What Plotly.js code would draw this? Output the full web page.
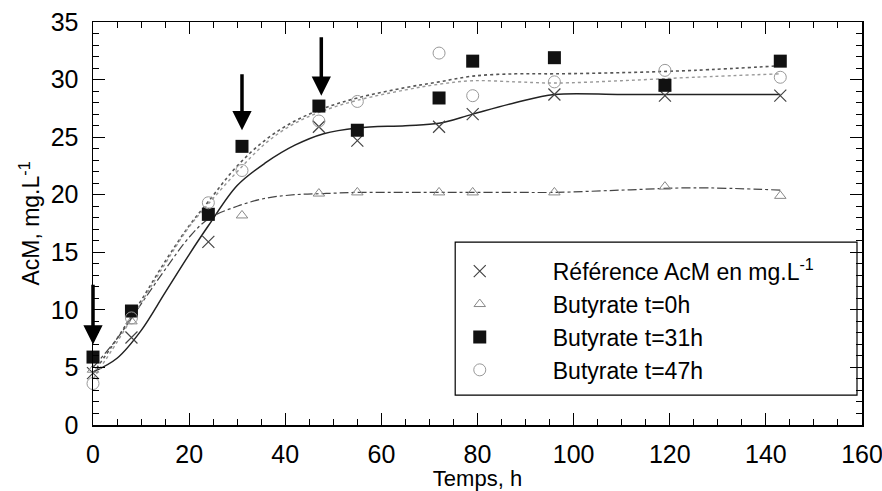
<!DOCTYPE html>
<html>
<head>
<meta charset="utf-8">
<script src="https://cdn.plot.ly/plotly-3.0.1.min.js"></script>
<style>html,body{margin:0;padding:0;background:#fff;}#chart{width:882px;height:491px;}</style>
</head>
<body>
<div id="chart"></div>
<script>
// Measured points (time in h, AcM in mg/L)
const times = [0, 8, 24, 31, 47, 55, 72, 79, 96, 119, 143];
const refAcM = [4.5, 7.6, 15.9, null, 25.9, 24.7, 25.9, 27.0, 28.7, 28.6, 28.6];
const butT0 = [4.8, 9.0, 18.0, 18.2, 20.1, 20.2, 20.2, 20.2, 20.2, 20.7, 19.9];
const butT31 = [5.9, 9.9, 18.3, 24.2, 27.7, 25.6, 28.4, 31.6, 31.9, 29.5, 31.6];
const butT47 = [3.6, 9.3, 19.3, 22.1, 26.4, 28.1, 32.3, 28.6, 29.8, 30.8, 30.2];

// Fitted curves
const fitTimes = [0, 5, 10, 15, 20, 24, 30, 36, 42, 48, 55, 65, 72, 79, 88, 96, 110, 125, 143];
const fitRef = [4.6, 5.8, 8.2, 11.5, 14.8, 17.3, 20.8, 22.8, 24.3, 25.3, 25.8, 26.0, 26.2, 27.0, 28.0, 28.7, 28.7, 28.7, 28.7];
const fitT0 = [5.0, 7.5, 10.5, 13.5, 16.3, 17.9, 19.0, 19.7, 20.0, 20.1, 20.2, 20.2, 20.2, 20.2, 20.2, 20.2, 20.4, 20.6, 20.4];
const fitT31 = [4.5, 7.5, 10.8, 14.2, 17.3, 19.4, 22.5, 24.8, 26.4, 27.5, 28.4, 29.3, 29.8, 30.3, 30.5, 30.5, 30.6, 30.8, 31.2];
const fitT47 = [4.0, 7.2, 10.6, 14.0, 17.2, 19.2, 22.0, 24.5, 26.2, 27.3, 28.2, 29.1, 29.6, 29.9, 29.8, 29.7, 29.9, 30.2, 30.5];

// Butyrate addition arrows
const arrowTimes = [0, 31, 47.5];
const arrowTop = [12.3, 30.6, 33.8];
const arrowTip = [7.0, 25.6, 28.6];

const seriesNames = ['Référence AcM en mg.L<sup>-1</sup>', 'Butyrate t=0h', 'Butyrate t=31h', 'Butyrate t=47h'];

const FONT = 'Arial, "Liberation Sans", sans-serif';

const traces = [
  {x: fitTimes, y: fitRef, mode: 'lines', line: {color: '#222', width: 1.5, shape: 'spline'}, showlegend: false, hoverinfo: 'skip'},
  {x: fitTimes, y: fitT0, mode: 'lines', line: {color: '#444', width: 1.2, dash: 'dashdot', shape: 'spline'}, showlegend: false, hoverinfo: 'skip'},
  {x: fitTimes, y: fitT31, mode: 'lines', line: {color: '#555', width: 1.6, dash: 'dot', shape: 'spline'}, showlegend: false, hoverinfo: 'skip'},
  {x: fitTimes, y: fitT47, mode: 'lines', line: {color: '#999', width: 1.4, dash: '3px,3px', shape: 'spline'}, showlegend: false, hoverinfo: 'skip'},
  {x: times, y: refAcM, name: seriesNames[0], mode: 'markers', cliponaxis: false,
   marker: {symbol: 'x-thin-open', size: 12, color: '#444', line: {color: '#444', width: 1.2}}},
  {x: times, y: butT0, name: seriesNames[1], mode: 'markers', cliponaxis: false,
   marker: {symbol: 'triangle-up-open', size: 10, color: '#888', line: {color: '#888', width: 1}}},
  {x: times, y: butT31, name: seriesNames[2], mode: 'markers', cliponaxis: false,
   marker: {symbol: 'square', size: 13, color: '#111', line: {color: '#111', width: 0}}},
  {x: times, y: butT47, name: seriesNames[3], mode: 'markers', cliponaxis: false,
   marker: {symbol: 'circle-open', size: 12, color: '#999', line: {color: '#999', width: 1}}}
];

const annotations = arrowTimes.map((t, i) => ({
  x: t, y: arrowTip[i], ax: t, ay: arrowTop[i], axref: 'x', ayref: 'y', xref: 'x', yref: 'y',
  text: '', showarrow: true, arrowhead: 2, arrowsize: 1.1, arrowwidth: 3.5, arrowcolor: '#000'
}));

const layout = {
  width: 882, height: 491,
  margin: {l: 93, r: 20, t: 22, b: 66},
  paper_bgcolor: '#fff', plot_bgcolor: '#fff',
  font: {family: FONT, color: '#000', size: 25},
  showlegend: true,
  legend: {
    x: 0.408, y: 0.435, xanchor: 'left', yanchor: 'top',
    bgcolor: 'rgba(0,0,0,0)', borderwidth: 0,
    font: {family: FONT, size: 23, color: '#000'},
    itemwidth: 136
  },
  shapes: [{type: 'rect', xref: 'paper', yref: 'paper', x0: 0.471, x1: 0.9935, y0: 0.074, y1: 0.454,
            line: {color: '#000', width: 1.2}, fillcolor: 'rgba(0,0,0,0)'}],
  xaxis: {
    range: [0, 160], dtick: 20, tick0: 0,
    ticks: 'inside', ticklen: 12, tickwidth: 1.2, tickcolor: '#000',
    minor: {dtick: 5, ticks: 'inside', ticklen: 6, tickcolor: '#000', tickwidth: 1},
    showline: true, linecolor: '#000', linewidth: 1.5, mirror: 'ticks',
    showgrid: false, zeroline: false,
    tickfont: {family: FONT, size: 25, color: '#000'},
    ticklabelstandoff: 6, ticklabeloverflow: 'allow',
    title: {text: 'Temps, h', font: {family: FONT, size: 22, color: '#000'}, standoff: 0}
  },
  yaxis: {
    range: [0, 35], dtick: 5, tick0: 0,
    ticks: 'inside', ticklen: 12, tickwidth: 1.2, tickcolor: '#000',
    minor: {dtick: 1, ticks: 'inside', ticklen: 6, tickcolor: '#000', tickwidth: 1},
    showline: true, linecolor: '#000', linewidth: 1.5, mirror: 'ticks',
    showgrid: false, zeroline: false,
    tickfont: {family: FONT, size: 25, color: '#000'},
    ticklabelstandoff: 8, ticklabeloverflow: 'allow',
    title: {text: 'AcM, mg.L<sup>-1</sup>', font: {family: FONT, size: 23, color: '#000'}, standoff: 4}
  },
  annotations: annotations
};

Plotly.newPlot('chart', traces, layout, {displayModeBar: false, staticPlot: true});
</script>
</body>
</html>
